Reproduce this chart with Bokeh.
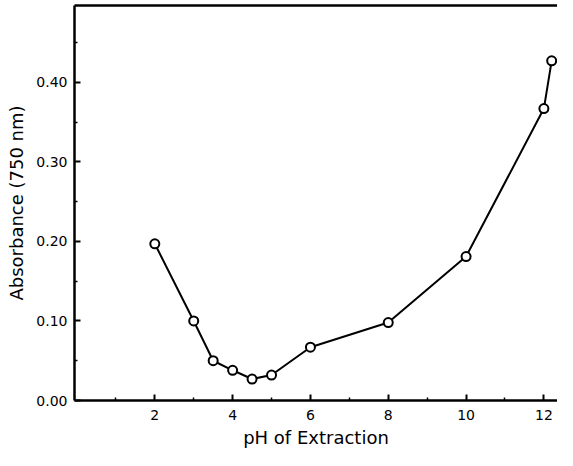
from bokeh.plotting import figure
from bokeh.models import FixedTicker, Range1d, LinearAxis
from bokeh.embed import file_html
from bokeh.resources import INLINE

ph = [2, 3, 3.5, 4, 4.5, 5, 6, 8, 10, 12, 12.2]
absorbance = [0.197, 0.100, 0.050, 0.038, 0.027, 0.032, 0.067, 0.098, 0.181, 0.367, 0.427]

x_ticks = [2, 4, 6, 8, 10, 12]
x_minor = [1, 3, 5, 7, 9, 11]
y_ticks = [0.0, 0.1, 0.2, 0.3, 0.4]
y_minor = [0.05, 0.15, 0.25, 0.35, 0.45]
y_tick_labels = ["0.00", "0.10", "0.20", "0.30", "0.40"]

x_label = "pH of Extraction"
y_label = "Absorbance (750 nm)"

FONT = "DejaVu Sans"

p = figure(width=557, height=450, output_backend="svg", toolbar_location=None,
           x_range=Range1d(-0.064, 12.35), y_range=Range1d(0.0, 0.4966))
p.min_border_left = 74
p.min_border_right = 0
p.min_border_top = 5
p.min_border_bottom = 49
p.outline_line_color = None
p.grid.visible = False
p.background_fill_color = "white"
p.border_fill_color = "white"

p.line(ph, absorbance, line_color="black", line_width=2)
p.scatter(ph, absorbance, size=9, fill_color="white", line_color="black", line_width=2)

bottom = p.below[0]
left = p.left[0]

# top frame line as a bare axis with no ticks and no labels
top = LinearAxis(ticker=FixedTicker(ticks=[], minor_ticks=[]),
                 axis_line_width=2.5, axis_line_color="black",
                 major_tick_line_color=None, minor_tick_line_color=None,
                 major_label_standoff=0)
p.add_layout(top, "above")

bottom.ticker = FixedTicker(ticks=x_ticks, minor_ticks=x_minor)
left.ticker = FixedTicker(ticks=y_ticks, minor_ticks=y_minor)
left.major_label_overrides = {t: l for t, l in zip(y_ticks, y_tick_labels)}

for ax in (bottom, left):
    ax.axis_line_width = 2.5
    ax.axis_line_color = "black"
    ax.major_tick_in = 6
    ax.major_tick_out = 0
    ax.minor_tick_in = 3
    ax.minor_tick_out = 0
    ax.major_tick_line_width = 2
    ax.minor_tick_line_width = 1.5
    ax.major_tick_line_color = "black"
    ax.minor_tick_line_color = "black"
    ax.major_label_text_font = FONT
    ax.major_label_text_font_size = "14px"
    ax.major_label_text_color = "black"
    ax.axis_label_text_font = FONT
    ax.axis_label_text_font_size = "18px"
    ax.axis_label_text_font_style = "normal"
    ax.axis_label_text_color = "black"

bottom.axis_label = x_label
left.axis_label = y_label
bottom.major_label_standoff = 9
bottom.axis_label_standoff = 4
left.major_label_standoff = 7
left.axis_label_standoff = 6

open("out.html", "w").write(file_html(p, INLINE))
